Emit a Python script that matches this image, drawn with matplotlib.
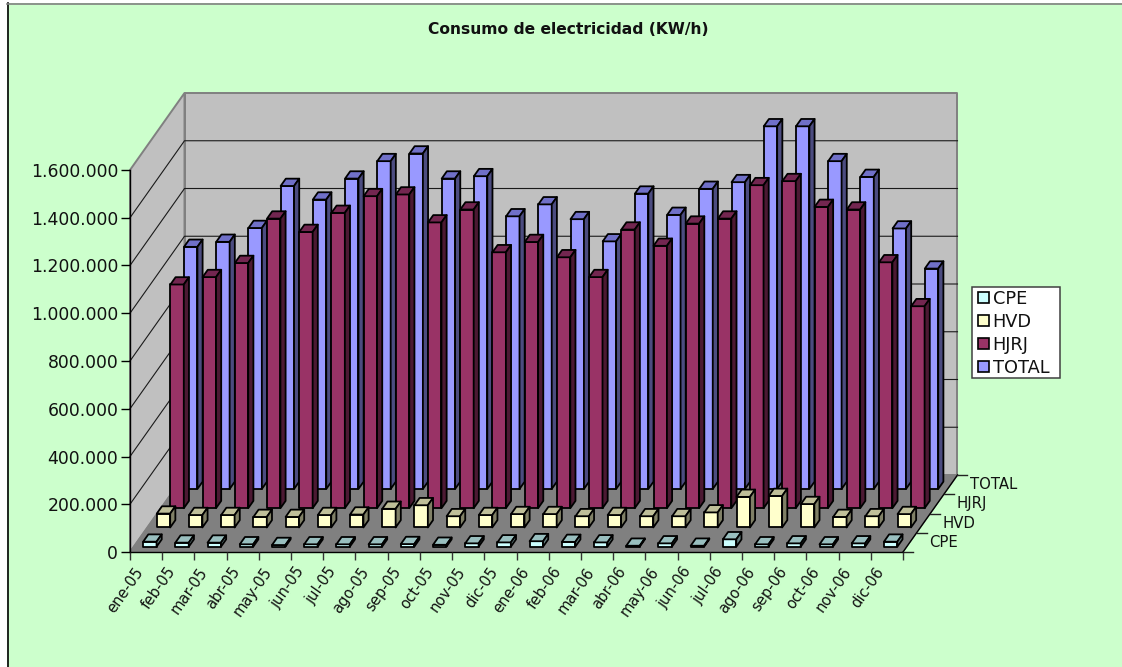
import matplotlib
matplotlib.use("Agg")
import matplotlib.pyplot as plt
from matplotlib.lines import Line2D
from matplotlib.patches import Patch, Polygon, Rectangle
from matplotlib.ticker import FuncFormatter
from matplotlib.transforms import ScaledTranslation

meses = ['ene-05', 'feb-05', 'mar-05', 'abr-05', 'may-05', 'jun-05', 'jul-05', 'ago-05',
         'sep-05', 'oct-05', 'nov-05', 'dic-05', 'ene-06', 'feb-06', 'mar-06', 'abr-06',
         'may-06', 'jun-06', 'jul-06', 'ago-06', 'sep-06', 'oct-06', 'nov-06', 'dic-06']

# miles de KW/h
cpe = [21, 17, 17, 10, 7, 10, 10, 10, 11, 8, 14, 18, 23, 20, 18, 4, 14, 4, 31, 10, 14, 10, 14, 21]
hvd = [58, 52, 52, 44, 44, 52, 54, 78, 93, 47, 52, 56, 56, 47, 52, 47, 47, 63, 128, 132, 98, 44, 47, 56]
hjrj = [937, 968, 1027, 1213, 1157, 1237, 1307, 1314, 1197, 1251, 1072, 1115, 1051, 968, 1167, 1099,
        1192, 1213, 1353, 1370, 1262, 1251, 1030, 846]
total = [1014, 1035, 1093, 1269, 1212, 1300, 1373, 1405, 1300, 1310, 1142, 1192, 1130, 1037, 1237, 1148,
         1257, 1285, 1519, 1519, 1373, 1307, 1091, 923]

series = ['CPE', 'HVD', 'HJRJ', 'TOTAL']
values = [cpe, hvd, hjrj, total]
y_ticks = [0, 200000, 400000, 600000, 800000, 1000000, 1200000, 1400000, 1600000]

# colores: frente, arriba, lado
colors = {
    'CPE': ('#CCFFFF', '#99BFBF', '#668080'),
    'HVD': ('#FFFFCC', '#BFBF99', '#808066'),
    'HJRJ': ('#993366', '#732650', '#4C1933'),
    'TOTAL': ('#9999FF', '#7070C8', '#4C4C80'),
}

W, H = 1122, 667
BG = '#CCFFCC'
plt.rcParams['font.family'] = 'DejaVu Sans'

fig = plt.figure(figsize=(W / 100, H / 100), dpi=100, facecolor=BG)
ax = fig.add_axes([130 / W, 1 - 552 / H, 773 / W, 382 / H])
ax.patch.set_visible(False)
ax.set_xlim(0, 24)
ax.set_ylim(0, 1600000)

# proyeccion oblicua: la profundidad 0..1 desplaza en categorias y en valor
DX = 54.5 / (773 / 24)
DY = 77 * 1600000 / 382


def proj(x, v, d):
    return x + d * DX, v + d * DY


def poly(pts, face, edge='black', lw=1.3, z=1):
    p = Polygon([proj(*q) for q in pts], closed=True, facecolor=face, edgecolor=edge,
                linewidth=lw, joinstyle='round', clip_on=False, zorder=z)
    ax.add_patch(p)


top = y_ticks[-1]
# paredes y piso
poly([(0, 0, 1), (24, 0, 1), (24, top, 1), (0, top, 1)], '#C0C0C0', edge='#808080', lw=1.4)
poly([(0, 0, 0), (0, 0, 1), (0, top, 1), (0, top, 0)], '#C0C0C0', edge='#808080', lw=1.4)
poly([(0, 0, 0), (24, 0, 0), (24, 0, 1), (0, 0, 1)], '#808080', edge='#808080', lw=1.0)
for t in y_ticks[1:-1]:
    xs, ys = zip(proj(0, t, 0), proj(0, t, 1), proj(24, t, 1))
    ax.plot(xs, ys, color='#1a1a1a', lw=0.8, clip_on=False, zorder=1.2)
xs, ys = zip(proj(24, 0, 0), proj(24, 0, 1))
ax.plot(xs, ys, color='black', lw=1.0, clip_on=False, zorder=1.2)

# barras, de atras hacia adelante
z = 2
bw = 0.416
margin = (1 - bw) / 2
for s in [3, 2, 1, 0]:
    name = series[s]
    d0 = (s + 0.275) / 4
    d1 = (s + 0.275 + 0.38) / 4
    front, up, side = colors[name]
    for i, val in enumerate(values[s]):
        v = val * 1000
        a = i + margin
        b = a + bw
        poly([(a, 0, d0), (b, 0, d0), (b, v, d0), (a, v, d0)], front, z=z)
        poly([(a, v, d0), (b, v, d0), (b, v, d1), (a, v, d1)], up, z=z)
        poly([(b, 0, d0), (b, 0, d1), (b, v, d1), (b, v, d0)], side, z=z)
        z += 0.01

# ejes
for name in ['top', 'right']:
    ax.spines[name].set_visible(False)
for name in ['left', 'bottom']:
    ax.spines[name].set_linewidth(1.0)
    ax.spines[name].set_zorder(1.5)
ax.set_yticks(y_ticks)
ax.yaxis.set_major_formatter(FuncFormatter(lambda v, pos: f'{int(v):,}'.replace(',', '.')))
ax.tick_params(axis='y', length=6.5, width=1.0, pad=2, labelsize=12.4, labelcolor='#111111')
ax.set_xticks(range(25))
ax.set_xticklabels([])
ax.tick_params(axis='x', which='major', length=5.8, width=1.0, color='#333333')
ax.set_xticks([i + 0.5 for i in range(24)], minor=True)
ax.set_xticklabels(meses, minor=True)
ax.tick_params(axis='x', which='minor', length=0, pad=12, labelsize=10.6, labelcolor='#111111')
shift = ScaledTranslation(-6 / 100, 0, fig.dpi_scale_trans)
for lbl in ax.get_xticklabels(minor=True):
    lbl.set_rotation(55)
    lbl.set_rotation_mode('anchor')
    lbl.set_ha('right')
    lbl.set_va('center')
    lbl.set_transform(lbl.get_transform() + shift)

# eje de profundidad
tick_dx = 10 / (773 / 24)
for d in [0, 0.25, 0.5, 0.75, 1]:
    x0, y0 = proj(24, 0, d)
    ax.plot([x0, x0 + tick_dx], [y0, y0], color='#222222', lw=1.0, clip_on=False, zorder=1.2)
for s, name in enumerate(series):
    x0, y0 = proj(24, 0, (s + 0.5) / 4)
    ax.annotate(name, (x0, y0), xytext=(19, 0), textcoords='offset pixels', ha='left', va='center',
                fontsize=10.7, color='#111111', annotation_clip=False)

fig.text(568 / W, 1 - 30 / H, 'Consumo de electricidad (KW/h)', ha='center', va='center',
         fontsize=11.2, fontweight='bold', color='#111111')

# leyenda: marco aparte para fijar su tamano
fig.add_artist(Rectangle((972.3 / W, 1 - 378.3 / H), 87.7 / W, 91.6 / H, transform=fig.transFigure,
                         facecolor='white', edgecolor='#404040', linewidth=1.1, zorder=-1))
handles = [Patch(facecolor=colors[n][0], edgecolor='black', linewidth=1.2) for n in series]
leg = ax.legend(handles, series, loc='upper left', bbox_to_anchor=(978 / W, 1 - 290 / H),
                bbox_transform=fig.transFigure, borderaxespad=0, fontsize=12.8, frameon=False,
                handlelength=0.62, handleheight=0.55, handletextpad=0.2, borderpad=0, labelspacing=0.28)
leg.set_zorder(20)
for t in leg.get_texts():
    t.set_color('#111111')

# borde del area del grafico
fig.add_artist(Rectangle((0, 0), 7 / W, 1, transform=fig.transFigure, facecolor='white', edgecolor='none'))
fig.add_artist(Rectangle((0, 1 - 3 / H), 1, 3 / H, transform=fig.transFigure, facecolor='white', edgecolor='none'))
fig.add_artist(Line2D([7.5 / W, 7.5 / W], [0, 1 - 3 / H], color='black', lw=1.2))
fig.add_artist(Line2D([7 / W, 1], [1 - 3.5 / H, 1 - 3.5 / H], color='#808080', lw=1.2))

fig.savefig('out.png', dpi=100, facecolor=BG)
